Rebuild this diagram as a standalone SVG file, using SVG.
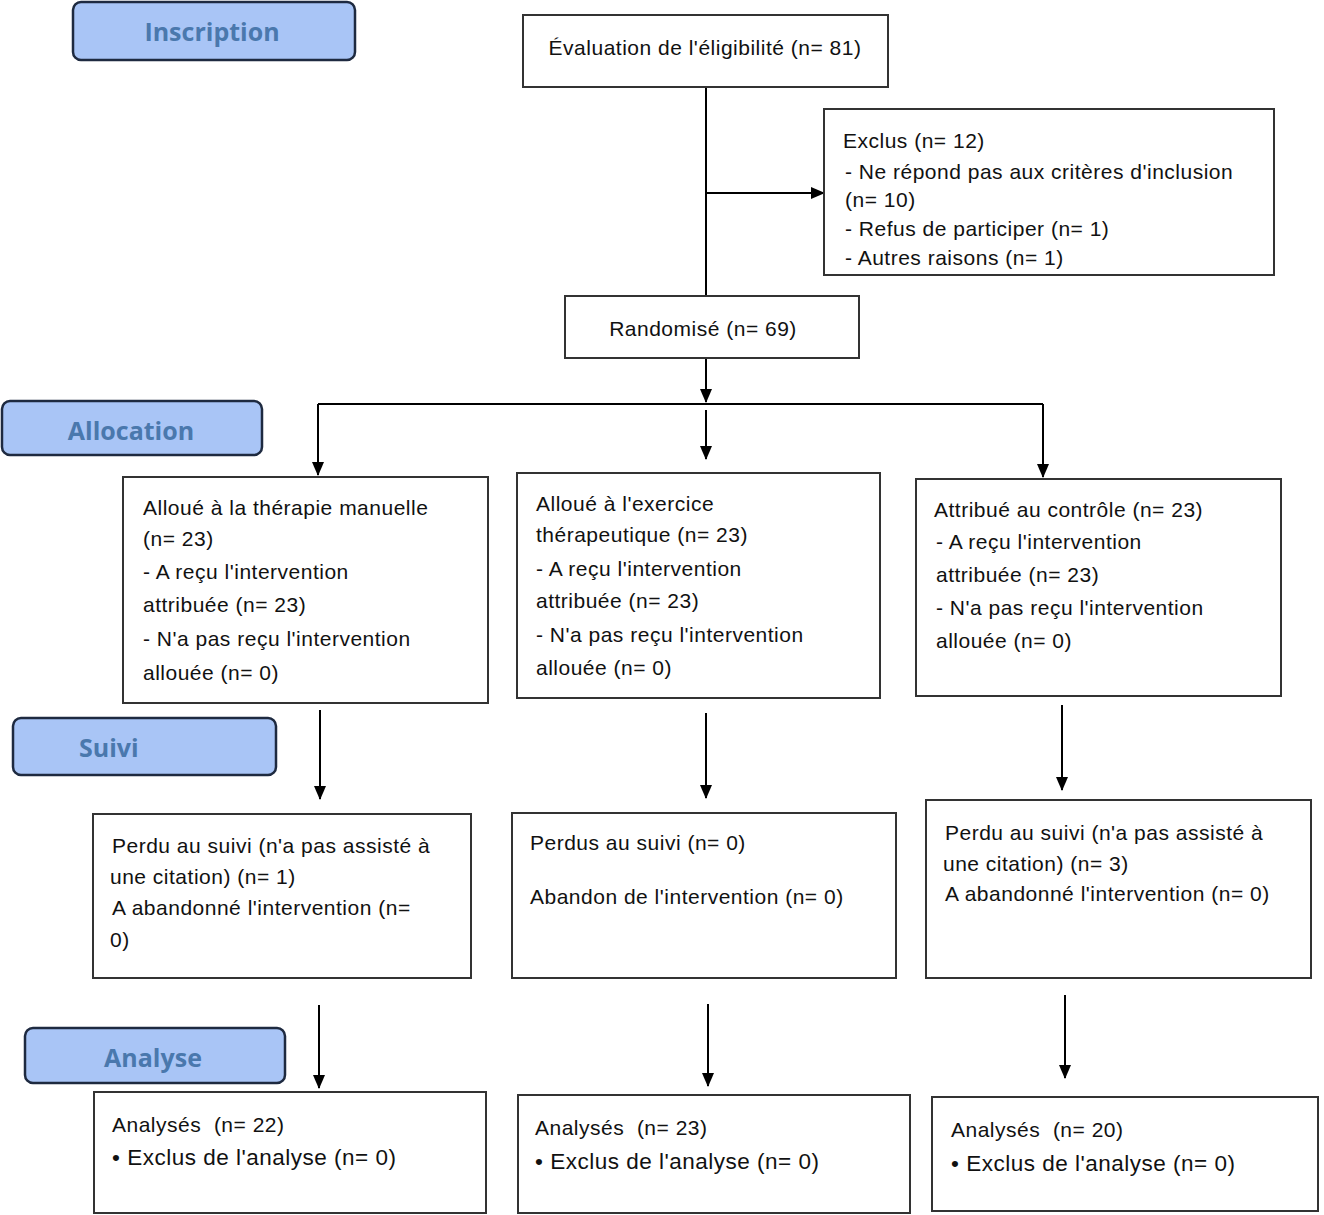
<svg xmlns="http://www.w3.org/2000/svg" width="1324" height="1215" viewBox="0 0 1324 1215">
<defs>
<marker id="ah" markerWidth="14" markerHeight="14" refX="13" refY="7" orient="auto" markerUnits="userSpaceOnUse" viewBox="0 0 14 14">
<path d="M0,1 L14,7 L0,13 z" fill="#000"/>
</marker>
<style>
.box{fill:#fff;stroke:#333;stroke-width:2}
.lab{fill:#a9c5f6;stroke:#1e2a40;stroke-width:2.5}
.lt{font-family:"Open Sans","Liberation Sans",sans-serif;font-weight:bold;font-size:25px;fill:#4a78ad;text-anchor:middle}
.t{font-family:"Liberation Sans",Arial,sans-serif;font-size:21px;letter-spacing:0.5px;fill:#111;white-space:pre}
.b{font-size:22.5px}
.c{stroke:#000;stroke-width:2;fill:none}
.a{stroke:#000;stroke-width:2;fill:none;marker-end:url(#ah)}
</style>
</defs>
<rect width="1324" height="1215" fill="#fff"/>

<g id="label-inscription"><rect class="lab" x="73" y="2" width="282" height="58" rx="8"/><text class="lt" x="212" y="41">Inscription</text></g>
<g id="label-allocation"><rect class="lab" x="2" y="401" width="260" height="54" rx="8"/><text class="lt" x="131" y="440">Allocation</text></g>
<g id="label-suivi"><rect class="lab" x="13" y="718" width="263" height="57" rx="8"/><text class="lt" x="79" y="757" style="text-anchor:start">Suivi</text></g>
<g id="label-analyse"><rect class="lab" x="25" y="1028" width="260" height="55" rx="8"/><text class="lt" x="153" y="1067">Analyse</text></g>

<g id="connectors">
<line class="c" x1="706" y1="87" x2="706" y2="296"/>
<line class="a" x1="706" y1="193" x2="824" y2="193"/>
<line class="a" x1="706" y1="358" x2="706" y2="402"/>
<line class="c" x1="318" y1="404" x2="1043" y2="404"/>
<line class="a" x1="318" y1="404" x2="318" y2="475"/>
<line class="a" x1="706" y1="410" x2="706" y2="459"/>
<line class="a" x1="1043" y1="404" x2="1043" y2="477"/>
<line class="a" x1="320" y1="710" x2="320" y2="799"/>
<line class="a" x1="706" y1="713" x2="706" y2="798"/>
<line class="a" x1="1062" y1="705" x2="1062" y2="790"/>
<line class="a" x1="319" y1="1005" x2="319" y2="1088"/>
<line class="a" x1="708" y1="1004" x2="708" y2="1086"/>
<line class="a" x1="1065" y1="995" x2="1065" y2="1078"/>
</g>

<g id="eligibilite"><rect class="box" x="523" y="15" width="365" height="72"/><text class="t" x="705" y="55" text-anchor="middle">Évaluation de l'éligibilité (n= 81)</text></g>
<g id="exclus"><rect class="box" x="824" y="109" width="450" height="166"/>
<text class="t" x="843" y="148">Exclus (n= 12)</text>
<text class="t" x="845" y="179">- Ne répond pas aux critères d'inclusion</text>
<text class="t" x="845" y="207">(n= 10)</text>
<text class="t" x="845" y="236">- Refus de participer (n= 1)</text>
<text class="t" x="845" y="265">- Autres raisons (n= 1)</text></g>
<g id="randomise"><rect class="box" x="565" y="296" width="294" height="62"/><text class="t" x="703" y="336" text-anchor="middle">Randomisé (n= 69)</text></g>

<g id="alloc-manuelle"><rect class="box" x="123" y="477" width="365" height="226"/>
<text class="t" x="143" y="515">Alloué à la thérapie manuelle</text>
<text class="t" x="143" y="546">(n= 23)</text>
<text class="t" x="143" y="579">- A reçu l'intervention</text>
<text class="t" x="143" y="612">attribuée (n= 23)</text>
<text class="t" x="143" y="646">- N'a pas reçu l'intervention</text>
<text class="t" x="143" y="680">allouée (n= 0)</text></g>
<g id="alloc-exercice"><rect class="box" x="517" y="473" width="363" height="225"/>
<text class="t" x="536" y="511">Alloué à l'exercice</text>
<text class="t" x="536" y="542">thérapeutique (n= 23)</text>
<text class="t" x="536" y="576">- A reçu l'intervention</text>
<text class="t" x="536" y="608">attribuée (n= 23)</text>
<text class="t" x="536" y="642">- N'a pas reçu l'intervention</text>
<text class="t" x="536" y="675">allouée (n= 0)</text></g>
<g id="alloc-controle"><rect class="box" x="916" y="479" width="365" height="217"/>
<text class="t" x="934" y="517">Attribué au contrôle (n= 23)</text>
<text class="t" x="936" y="549">- A reçu l'intervention</text>
<text class="t" x="936" y="582">attribuée (n= 23)</text>
<text class="t" x="936" y="615">- N'a pas reçu l'intervention</text>
<text class="t" x="936" y="648">allouée (n= 0)</text></g>

<g id="suivi-manuelle"><rect class="box" x="93" y="814" width="378" height="164"/>
<text class="t" x="112" y="853">Perdu au suivi (n'a pas assisté à</text>
<text class="t" x="110" y="884">une citation) (n= 1)</text>
<text class="t" x="112" y="915">A abandonné l'intervention (n=</text>
<text class="t" x="110" y="947">0)</text></g>
<g id="suivi-exercice"><rect class="box" x="512" y="813" width="384" height="165"/>
<text class="t" x="530" y="850">Perdus au suivi (n= 0)</text>
<text class="t" x="530" y="904">Abandon de l'intervention (n= 0)</text></g>
<g id="suivi-controle"><rect class="box" x="926" y="800" width="385" height="178"/>
<text class="t" x="945" y="840">Perdu au suivi (n'a pas assisté à</text>
<text class="t" x="943" y="871">une citation) (n= 3)</text>
<text class="t" x="945" y="901">A abandonné l'intervention (n= 0)</text></g>

<g id="analyse-manuelle"><rect class="box" x="94" y="1092" width="392" height="121"/>
<text class="t" x="112" y="1132">Analysés  (n= 22)</text>
<text class="t b" x="112" y="1165">• Exclus de l'analyse (n= 0)</text></g>
<g id="analyse-exercice"><rect class="box" x="518" y="1095" width="392" height="118"/>
<text class="t" x="535" y="1135">Analysés  (n= 23)</text>
<text class="t b" x="535" y="1169">• Exclus de l'analyse (n= 0)</text></g>
<g id="analyse-controle"><rect class="box" x="932" y="1097" width="386" height="114"/>
<text class="t" x="951" y="1137">Analysés  (n= 20)</text>
<text class="t b" x="951" y="1171">• Exclus de l'analyse (n= 0)</text></g>
</svg>
